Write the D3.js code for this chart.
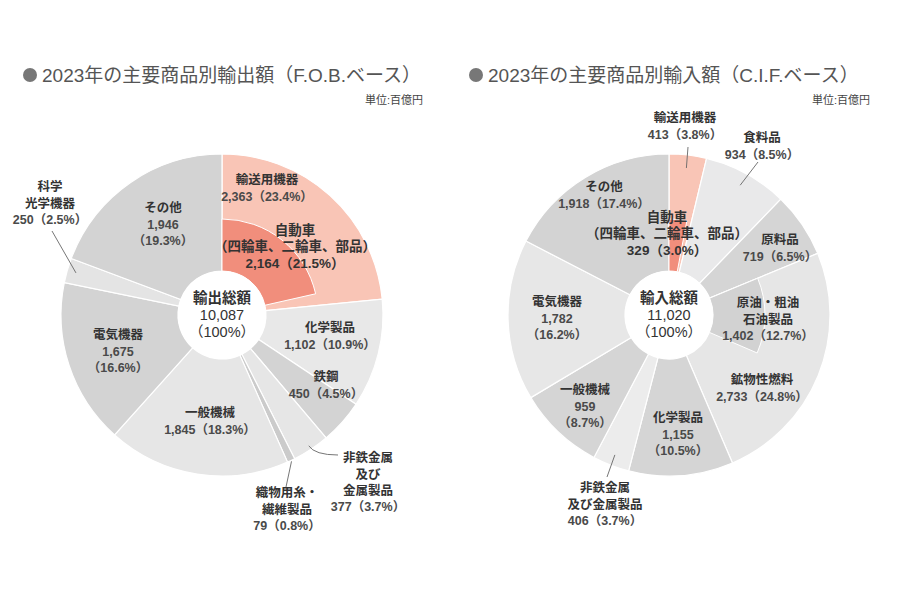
<!DOCTYPE html>
<html><head><meta charset="utf-8">
<script src="https://cdn.jsdelivr.net/npm/d3@7"></script>
<style>
body{margin:0;background:#fff}
svg{display:block}
text{font-family:"Liberation Sans","Noto Sans CJK JP",sans-serif}
</style>
</head><body>
<svg id="c" width="900" height="600"></svg>
<script>
// ---------------- DATA ----------------
const exportTitle = "2023年の主要商品別輸出額（F.O.B.ベース）";
const importTitle = "2023年の主要商品別輸入額（C.I.F.ベース）";
const unitLabel = "単位:百億円";

const exportCategories = ["輸送用機器","化学製品","鉄鋼","非鉄金属及び金属製品","織物用糸・繊維製品","一般機械","電気機器","科学光学機器","その他"];
const exportValues     = [2363, 1102, 450, 377, 79, 1845, 1675, 250, 1946];
const exportPercents   = [23.4, 10.9, 4.5, 3.7, 0.8, 18.3, 16.6, 2.5, 19.3];
const exportTotal      = 10087;
const exportSubCategories = ["自動車（四輪車、二輪車、部品）"];
const exportSubParents    = ["輸送用機器"];
const exportSubValues     = [2164];
const exportSubPercents   = [21.5];

const importCategories = ["輸送用機器","食料品","原料品","鉱物性燃料","化学製品","非鉄金属及び金属製品","一般機械","電気機器","その他"];
const importValues     = [413, 934, 719, 2733, 1155, 406, 959, 1782, 1918];
const importPercents   = [3.8, 8.5, 6.5, 24.8, 10.5, 3.7, 8.7, 16.2, 17.4];
const importTotal      = 11020;
const importSubCategories = ["自動車（四輪車、二輪車、部品）","原油・粗油・石油製品"];
const importSubParents    = ["輸送用機器","鉱物性燃料"];
const importSubValues     = [329, 1402];
const importSubPercents   = [3.0, 12.7];

// ---------------- STYLE / LAYOUT ----------------
const LIGHT = "#e6e6e6", MID = "#d3d3d3", PINK = "#f9c5b6", RED = "#f18e7c";
const exportColors = {"輸送用機器":PINK,"化学製品":"#e8e8e8","鉄鋼":MID,"非鉄金属及び金属製品":LIGHT,
  "織物用糸・繊維製品":"#cbcbcb","一般機械":LIGHT,"電気機器":MID,"科学光学機器":"#e4e4e4","その他":MID};
const importColors = {"輸送用機器":PINK,"食料品":"#e9e9ea","原料品":"#d5d5d5","鉱物性燃料":LIGHT,"化学製品":"#d5d5d5",
  "非鉄金属及び金属製品":"#ececec","一般機械":"#d5d5d5","電気機器":"#e7e7e7","その他":MID};
const subColors = {"自動車（四輪車、二輪車、部品）":RED,"原油・粗油・石油製品":"#d2d2d2"};

const exportLabels = {
  "輸送用機器":{name:["輸送用機器"],dx:45,dy:-135},
  "化学製品":{name:["化学製品"],dx:108,dy:13},
  "鉄鋼":{name:["鉄鋼"],dx:104,dy:62},
  "非鉄金属及び金属製品":{name:["非鉄金属","及び","金属製品"],dx:146,dy:143,leader:{r:157,to:[116,140],curve:true}},
  "織物用糸・繊維製品":{name:["織物用糸・","繊維製品"],dx:65,dy:178,leader:{r:162,to:[64,172]}},
  "一般機械":{name:["一般機械"],dx:-12,dy:98},
  "電気機器":{name:["電気機器"],dx:-104,dy:20,split:true},
  "科学光学機器":{name:["科学","光学機器"],dx:-172,dy:-128,leader:{r:152,to:[-170,-84]}},
  "その他":{name:["その他"],dx:-59,dy:-107,split:true},
  "自動車（四輪車、二輪車、部品）":{name:["自動車","（四輪車、二輪車、部品）"],dx:73,dy:-85,big:true}
};
const importLabels = {
  "輸送用機器":{name:["輸送用機器"],dx:16,dy:-197,leader:{r:148,to:[19,-168]}},
  "食料品":{name:["食料品"],dx:93,dy:-177,leader:{r:148,to:[89,-153]}},
  "原料品":{name:["原料品"],dx:111,dy:-75},
  "鉱物性燃料":{name:["鉱物性燃料"],dx:93,dy:65},
  "化学製品":{name:["化学製品"],dx:9,dy:103,split:true},
  "非鉄金属及び金属製品":{name:["非鉄金属","及び金属製品"],dx:-64,dy:173,leader:{r:150,to:[-62,162]}},
  "一般機械":{name:["一般機械"],dx:-84,dy:75,split:true},
  "電気機器":{name:["電気機器"],dx:-112,dy:-13,split:true},
  "その他":{name:["その他"],dx:-65,dy:-128},
  "自動車（四輪車、二輪車、部品）":{name:["自動車","（四輪車、二輪車、部品）"],dx:-2,dy:-98,big:true},
  "原油・粗油・石油製品":{name:["原油・粗油","石油製品"],dx:99,dy:-12}
};

const R_OUT = 161, R_IN = 44, R_SUB = 96;
const svg = d3.select("#c");
const fmt = d3.format(",");

function drawChart(opt){
  const g = svg.append("g").attr("transform",`translate(${opt.cx},${opt.cy})`);
  const total = d3.sum(opt.values);
  const rows = opt.categories.map((c,i)=>({cat:c,value:opt.values[i],pct:opt.percents[i]}));
  const pie = d3.pie().sort(null).value(d=>d.value);
  const arcs = pie(rows);
  const arc = d3.arc().innerRadius(R_IN).outerRadius(R_OUT);
  const angle = d3.scaleLinear().domain([0,total]).range([0,2*Math.PI]);

  g.selectAll("path.main").data(arcs).join("path").attr("class","main")
    .attr("d",arc).attr("fill",d=>opt.colors[d.data.cat])
    .attr("stroke","#fff").attr("stroke-width",1.2);

  const subs = opt.subCats.map((c,i)=>{
    const parent = arcs.find(a=>a.data.cat===opt.subParents[i]);
    return {cat:c,value:opt.subValues[i],pct:opt.subPercents[i],
      startAngle:parent.startAngle,endAngle:parent.startAngle+angle(opt.subValues[i])};
  });
  const subArc = d3.arc().innerRadius(R_IN).outerRadius(R_SUB);
  g.selectAll("path.sub").data(subs).join("path").attr("class","sub")
    .attr("d",subArc).attr("fill",d=>subColors[d.cat])
    .attr("stroke","#fff").attr("stroke-width",1);

  g.append("circle").attr("r",R_IN).attr("fill","#fff");

  const all = arcs.map(a=>({cat:a.data.cat,value:a.data.value,pct:a.data.pct,startAngle:a.startAngle,endAngle:a.endAngle})).concat(subs);
  all.forEach(d=>{
    const L = opt.labels[d.cat];
    if(!L || !L.leader) return;
    const mid = (d.startAngle+d.endAngle)/2;
    const p0 = [Math.sin(mid)*L.leader.r, -Math.cos(mid)*L.leader.r];
    const p1 = L.leader.to;
    const path = L.leader.curve
      ? `M${p0[0]},${p0[1]} Q${p0[0]+6},${p1[1]} ${p1[0]},${p1[1]}`
      : `M${p0[0]},${p0[1]} L${p1[0]},${p1[1]}`;
    g.append("path").attr("d",path).attr("fill","none").attr("stroke","#666").attr("stroke-width",0.9);
  });

  all.forEach(d=>{
    const L = opt.labels[d.cat];
    if(!L) return;
    const lh = L.big ? 16.5 : 16.2;
    const lines = L.name.map(t=>({t,name:true}));
    if(L.split){ lines.push({t:fmt(d.value)}); lines.push({t:"（"+d.pct.toFixed(1)+"%）"}); }
    else lines.push({t:fmt(d.value)+"（"+d.pct.toFixed(1)+"%）"});
    lines.forEach((ln,i)=>{
      g.append("text").attr("text-anchor","middle")
        .attr("x",L.dx).attr("y",L.dy+i*lh).attr("dy","0.35em")
        .attr("font-size",L.big?13.5:12.5)
        .attr("font-weight",700)
        .attr("fill",ln.name||L.big?"#333":"#4a4a4a")
        .text(ln.t);
    });
  });

  [[opt.centerLabel,700],[fmt(opt.total),400],["（100%）",400]].forEach((a,i)=>{
    g.append("text").attr("text-anchor","middle").attr("fill","#333")
      .attr("x",0).attr("y",-17+i*17).attr("dy","0.35em")
      .attr("font-size",14.5).attr("font-weight",a[1]).text(a[0]);
  });

  svg.append("circle").attr("cx",opt.titleX).attr("cy",75).attr("r",7).attr("fill","#777");
  svg.append("text").attr("x",opt.titleX+12).attr("y",75).attr("dy","0.35em")
    .attr("font-size",19).attr("font-weight",400).attr("fill","#555").text(opt.title);
  svg.append("text").attr("x",opt.unitX).attr("y",100).attr("dy","0.35em")
    .attr("text-anchor","end").attr("font-size",11).attr("fill","#444").text(unitLabel);
}

drawChart({cx:222,cy:315,categories:exportCategories,values:exportValues,percents:exportPercents,total:exportTotal,
  subCats:exportSubCategories,subParents:exportSubParents,subValues:exportSubValues,subPercents:exportSubPercents,
  colors:exportColors,labels:exportLabels,centerLabel:"輸出総額",title:exportTitle,titleX:30,unitX:423});
drawChart({cx:669,cy:315,categories:importCategories,values:importValues,percents:importPercents,total:importTotal,
  subCats:importSubCategories,subParents:importSubParents,subValues:importSubValues,subPercents:importSubPercents,
  colors:importColors,labels:importLabels,centerLabel:"輸入総額",title:importTitle,titleX:476,unitX:870});
</script>
</body></html>
